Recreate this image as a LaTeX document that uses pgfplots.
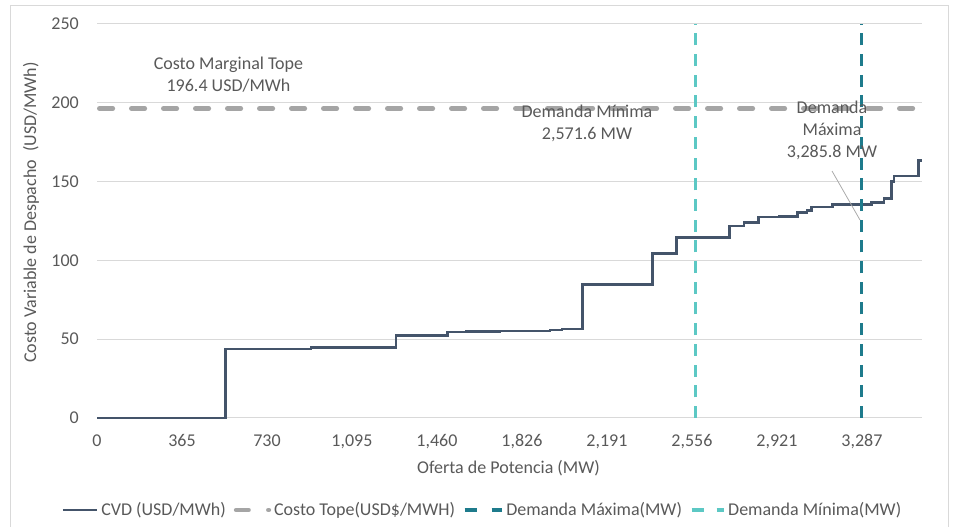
\documentclass[border=0pt]{standalone}
\usepackage{fontspec}
\setmainfont{Carlito}
\usepackage{pgfplots}
\pgfplotsset{compat=1.18}
\definecolor{txt}{HTML}{595959}
\definecolor{cvd}{HTML}{44546A}
\definecolor{tope}{HTML}{A5A5A5}
\definecolor{dmax}{HTML}{1E7B8C}
\definecolor{dmin}{HTML}{5CC8C4}
\definecolor{gridc}{HTML}{D9D9D9}
\newcommand\fsz{\fontsize{18}{22}\selectfont}
\begin{document}
\begin{tikzpicture}[x=1pt,y=1pt]
\useasboundingbox (0,0) rectangle (953,527);
\draw[gridc, line width=1pt] (10,0) -- (10,521) -- (948,521) -- (948,0);
\begin{axis}[
  at={(97pt,109pt)}, anchor=south west,
  scale only axis, width=825pt, height=394pt,
  xmin=0, xmax=3545, ymin=0, ymax=250,
  clip=false,
  axis line style={draw=none},
  major tick style={draw=none},
  ymajorgrids, grid style={gridc, line width=1pt},
  ytick={0,50,100,150,200,250},
  xtick={0,365.2,730.4,1095.6,1460.8,1826,2191.2,2556.4,2921.6,3286.8},
  xticklabels={0,365,730,{1,095},{1,460},{1,826},{2,191},{2,556},{2,921},{3,287}},
  tick label style={font=\fsz, text=txt},
  /pgf/number format/assume math mode=true,
  xticklabel style={anchor=base, yshift=-28.5pt},
  yticklabel style={anchor=east, inner sep=0pt, xshift=-18pt},
  legend columns=4,
  legend style={at={(0.466,-0.2335)}, anchor=center, draw=none, fill=none,
    nodes={inner sep=0pt, font=\fsz, text=txt},
    /tikz/every odd column/.append style={column sep=3pt},
    /tikz/every even column/.append style={column sep=8pt}},
]
\addplot[cvd, line width=2.6pt, const plot mark left,
  legend image code/.code={\draw[cvd,line width=2.6pt](0pt,0pt)--(34pt,0pt);}]
coordinates {
(0,0) (553,43.8) (920,44.8) (1284,52.4) (1507,54.6) (1588,54.9) (1732,55.2)
(1946,55.8) (1998,56.5) (2087,84.6) (2387,104.3) (2490,114.4) (2717,121.8)
(2780,123.9) (2842,127.5) (2930,128.0) (3009,130.3) (3050,131.6) (3071,133.9)
(3160,135.6) (3329,136.6) (3382,139.4) (3415,150.0) (3425,153.5) (3530,163.3)
(3546,163.3)
};
\addlegendentry{CVD (USD/MWh)}
\addplot[tope, line width=4.6pt, line cap=round, dash pattern=on 13.5pt off 18.5pt,
  legend image code/.code={\draw[tope,line width=4.6pt,line cap=round](2.3pt,0pt)--(14.7pt,0pt) (34.5pt,0pt)--(35pt,0pt);}]
coordinates {(10,196.4) (3545,196.4)};
\addlegendentry{Costo Tope(USD\$/MWH)}
\addplot[dmax, line width=3.2pt, dash pattern=on 12pt off 8.7pt,
  legend image code/.code={\draw[dmax,line width=3.2pt](0pt,0pt)--(12pt,0pt) (27pt,0pt)--(37pt,0pt);}]
coordinates {(3285.8,0) (3285.8,250)};
\addlegendentry{Demanda Máxima(MW)}
\addplot[dmin, line width=3.2pt, dash pattern=on 12pt off 8.7pt,
  legend image code/.code={\draw[dmin,line width=3.2pt](0pt,0pt)--(12pt,0pt) (25pt,0pt)--(32pt,0pt);}]
coordinates {(2571.6,0) (2571.6,250)};
\addlegendentry{Demanda Mínima(MW)}
\end{axis}
% axis titles
\node[font=\fsz, text=txt] at (508.5,59) {Oferta de Potencia (MW)};
\node[font=\fsz, text=txt, rotate=90] at (31,314.5) {Costo Variable de Despacho~~(USD/MWh)};
% annotations
\node[font=\fsz, text=txt, align=center] at (228.5,452) {Costo Marginal Tope\\196.4 USD/MWh};
\node[font=\fsz, text=txt, align=center] at (587,404) {Demanda Mínima\\2,571.6 MW};
\node[font=\fsz, text=txt, align=center] at (832,397) {Demanda\\Máxima\\3,285.8 MW};
\draw[tope, line width=0.75pt] (832,356) -- (860,307);
\end{tikzpicture}
\end{document}
